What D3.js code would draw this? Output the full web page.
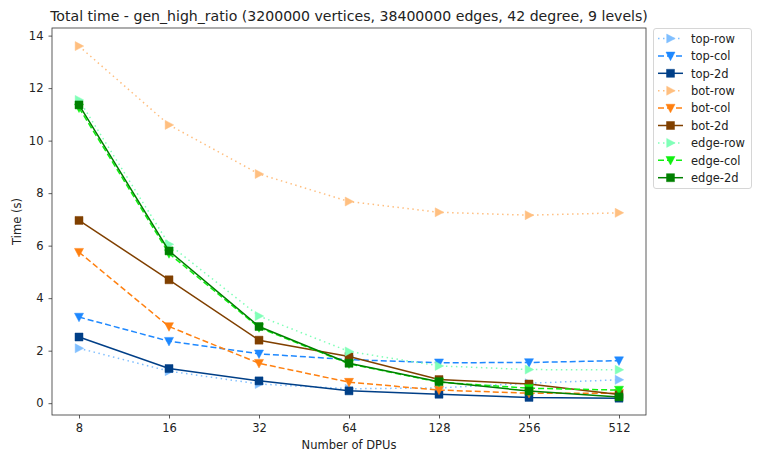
<!DOCTYPE html>
<html><head><meta charset="utf-8">
<script src="https://cdn.jsdelivr.net/npm/d3@7"></script>
<style>body{margin:0;background:#fff;} svg{font-family:"DejaVu Sans",sans-serif;}</style>
</head><body>
<script>
const dpus = [8, 16, 32, 64, 128, 256, 512];
const xTickLabels = ["8","16","32","64","128","256","512"];
const yTicks = [0,2,4,6,8,10,12,14];
const seriesNames = ["top-row","top-col","top-2d","bot-row","bot-col","bot-2d","edge-row","edge-col","edge-2d"];
const topRow  = [2.09, 1.22, 0.73, 0.55, 0.58, 0.76, 0.89];
const topCol  = [3.28, 2.36, 1.88, 1.66, 1.54, 1.55, 1.62];
const top2d   = [2.52, 1.32, 0.85, 0.47, 0.34, 0.22, 0.19];
const botRow  = [13.6, 10.6, 8.73, 7.68, 7.27, 7.16, 7.25];
const botCol  = [5.75, 2.92, 1.52, 0.80, 0.50, 0.38, 0.38];
const bot2d   = [6.96, 4.70, 2.40, 1.78, 0.90, 0.73, 0.33];
const edgeRow = [11.55, 6.05, 3.32, 1.97, 1.42, 1.28, 1.27];
const edgeCol = [11.25, 5.70, 2.88, 1.50, 0.80, 0.57, 0.50];
const edge2d  = [11.36, 5.80, 2.92, 1.52, 0.82, 0.46, 0.24];

const styles = [
  {c:"#80bfff", d:"1.5,3.5", m:"right"},
  {c:"#1e88ff", d:"6,3", m:"down"},
  {c:"#003f87", d:null, m:"square"},
  {c:"#ffbf80", d:"1.5,3.5", m:"right"},
  {c:"#ff8010", d:"6,3", m:"down"},
  {c:"#804000", d:null, m:"square"},
  {c:"#80ffb8", d:"1.5,3.5", m:"right"},
  {c:"#10f010", d:"6,3", m:"down"},
  {c:"#008000", d:null, m:"square"}
];
const allData = [topRow, topCol, top2d, botRow, botCol, bot2d, edgeRow, edgeCol, edge2d];

const W = 766, H = 461;
const L = 52, R = 646, T = 28, B = 415;
const svg = d3.select("body").append("svg").attr("width", W).attr("height", H);

const x = d3.scaleLog().base(2).domain([8/Math.pow(2,0.3), 512*Math.pow(2,0.3)]).range([L, R]);
const y = d3.scaleLinear().domain([-0.45, 14.29]).range([B, T]);

// axes
const xAxis = d3.axisBottom(x).tickValues(dpus).tickFormat((d,i)=>xTickLabels[i]).tickSizeOuter(0).tickSize(3.5).tickPadding(5);
const yAxis = d3.axisLeft(y).tickValues(yTicks).tickFormat(d3.format("d")).tickSizeOuter(0).tickSize(3.5).tickPadding(5);
const gx = svg.append("g").attr("transform",`translate(0,${B})`).call(xAxis);
const gy = svg.append("g").attr("transform",`translate(${L},0)`).call(yAxis);
[gx, gy].forEach(g=>{
  g.select(".domain").remove();
  g.selectAll("line").attr("stroke","#333").attr("stroke-width",0.8);
  g.selectAll("text").attr("font-size","11.5px").attr("fill","#222").attr("font-family","DejaVu Sans");
});
svg.append("rect").attr("x",L).attr("y",T).attr("width",R-L).attr("height",B-T)
  .attr("fill","none").attr("stroke","#333").attr("stroke-width",0.8);

function markerPath(type, s){
  const h = s/2;
  if(type==="square") return `M${-h},${-h}H${h}V${h}H${-h}Z`;
  if(type==="down") return `M${-h},${-h*0.85}L${h},${-h*0.85}L0,${h*1.05}Z`;
  return `M${-h*0.85},${-h}L${h*1.05},0L${-h*0.85},${h}Z`;
}

const line = d3.line().x((d,i)=>x(dpus[i])).y(d=>y(d));
allData.forEach((vals, k)=>{
  const st = styles[k];
  const g = svg.append("g");
  g.append("path").attr("d", line(vals)).attr("fill","none").attr("stroke",st.c)
    .attr("stroke-width",1.5).attr("stroke-dasharray",st.d);
  g.selectAll("path.m").data(vals).enter().append("path").attr("class","m")
    .attr("transform",(d,i)=>`translate(${x(dpus[i])},${y(d)})`)
    .attr("d", markerPath(st.m, st.m==="square"?8:9)).attr("fill",st.c)
    .attr("stroke",st.c).attr("stroke-width",0.8).attr("stroke-opacity",0.6);
});

// title & labels
svg.append("text").attr("x",(L+R)/2).attr("y",21).attr("text-anchor","middle")
  .attr("font-size","14.1px").attr("fill","#222").text("Total time - gen_high_ratio (3200000 vertices, 38400000 edges, 42 degree, 9 levels)");
svg.append("text").attr("x",(L+R)/2).attr("y",449).attr("text-anchor","middle")
  .attr("font-size","11.5px").attr("fill","#222").text("Number of DPUs");
svg.append("text").attr("transform",`translate(21,${(T+B)/2}) rotate(-90)`).attr("text-anchor","middle")
  .attr("font-size","11.5px").attr("fill","#222").text("Time (s)");

// legend
const lg = svg.append("g");
lg.append("rect").attr("x",653.5).attr("y",28.5).attr("width",98).attr("height",160).attr("rx",2.5)
  .attr("fill","#fff").attr("stroke","#ccc").attr("stroke-width",0.8);
seriesNames.forEach((n,k)=>{
  const st = styles[k];
  const yy = 38.5 + k*17.4;
  lg.append("line").attr("x1",658).attr("x2",683).attr("y1",yy).attr("y2",yy)
    .attr("stroke",st.c).attr("stroke-width",1.5).attr("stroke-dasharray",st.d);
  lg.append("path").attr("transform",`translate(670.5,${yy})`).attr("d",markerPath(st.m, st.m==="square"?8:9))
    .attr("fill",st.c).attr("stroke",st.c).attr("stroke-width",0.8).attr("stroke-opacity",0.6);
  lg.append("text").attr("x",691).attr("y",yy+4.2).attr("font-size","11.5px").attr("fill","#222").text(n);
});
</script>
</body></html>
